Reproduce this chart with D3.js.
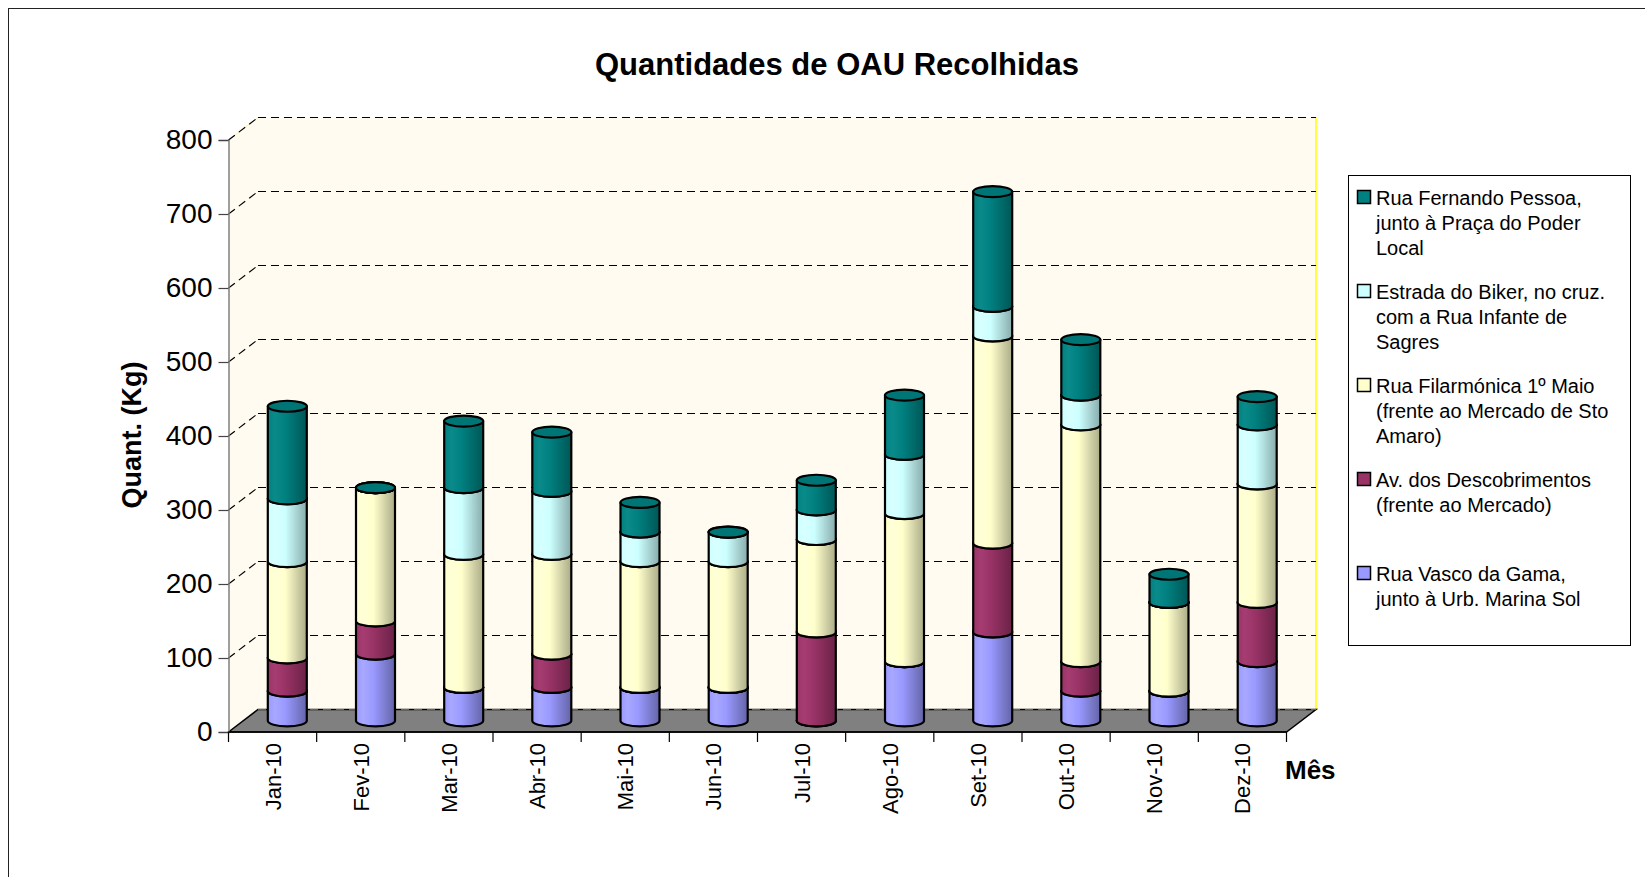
<!DOCTYPE html>
<html>
<head>
<meta charset="utf-8">
<script src="https://cdn.jsdelivr.net/npm/d3@7"></script>
<style>
  html, body { margin: 0; padding: 0; background: #fff; }
  svg { display: block; font-family: Arial, 'Liberation Sans', sans-serif; }
</style>
</head>
<body>
<div id="chart"></div>
<script>

// ━━━━━━━━━━━━━━━━━━━━━━━━━━━━━━━━━━━━━━━━━━━━━━━━━━━━━━━━━━━━━━━━━━━━━━━━━━━━━━━━━━━━
// Datos ////////////////////////////////////////////////////////////////////////////////
// ━━━━━━━━━━━━━━━━━━━━━━━━━━━━━━━━━━━━━━━━━━━━━━━━━━━━━━━━━━━━━━━━━━━━━━━━━━━━━━━━━━━━

const meses = ['Jan-10', 'Fev-10', 'Mar-10', 'Abr-10', 'Mai-10', 'Jun-10',
               'Jul-10', 'Ago-10', 'Set-10', 'Out-10', 'Nov-10', 'Dez-10'];

// de baixo para cima
const vascoGama      = [40,  90,  45,  45,  45,  45,   0,  80, 120,  40,  40,  80];
const descobrimentos = [45,  45,   0,  45,   0,   0, 120,   0, 120,  40,   0,  80];
const filarmonica    = [130, 180, 180, 135, 170, 170, 125, 200, 280, 320, 120, 160];
const biker          = [85,   0,  90,  85,  40,  40,  40,  80,  40,  40,   0,  80];
const fernandoPessoa = [125,  0,  90,  80,  40,   0,  40,  80, 155,  75,  38,  38];

const yTicks = [0, 100, 200, 300, 400, 500, 600, 700, 800];

const series = [
  { nome: ['Rua Vasco da Gama,', 'junto à Urb. Marina Sol'], valores: vascoGama,
    cor: '#9999FF', claro: '#A8A8FF', escuro: '#6464A8' },
  { nome: ['Av. dos Descobrimentos', '(frente ao Mercado)'], valores: descobrimentos,
    cor: '#993366', claro: '#A63D72', escuro: '#6A2246' },
  { nome: ['Rua Filarmónica 1º Maio', '(frente ao Mercado de Sto', 'Amaro)'], valores: filarmonica,
    cor: '#FFFFCC', claro: '#FFFFD8', escuro: '#ABAB88' },
  { nome: ['Estrada do Biker, no cruz.', 'com a Rua Infante de', 'Sagres'], valores: biker,
    cor: '#CCFFFF', claro: '#D8FFFF', escuro: '#88ABAB' },
  { nome: ['Rua Fernando Pessoa,', 'junto à Praça do Poder', 'Local'], valores: fernandoPessoa,
    cor: '#008080', claro: '#0B8A8A', escuro: '#005656' }
];

// ━━━━━━━━━━━━━━━━━━━━━━━━━━━━━━━━━━━━━━━━━━━━━━━━━━━━━━━━━━━━━━━━━━━━━━━━━━━━━━━━━━━━
// SVG setup ////////////////////////////////////////////////////////////////////////////
// ━━━━━━━━━━━━━━━━━━━━━━━━━━━━━━━━━━━━━━━━━━━━━━━━━━━━━━━━━━━━━━━━━━━━━━━━━━━━━━━━━━━━

const width = 1645, height = 877;

const svg = d3.select('#chart').append('svg')
  .attr('viewBox', [0, 0, width, height])
  .attr('width', width)
  .attr('height', height);

const    defs = svg.append('defs');
const   frame = svg.append('g').attr('id', 'frame');
const   walls = svg.append('g').attr('id', 'walls');
const    grid = svg.append('g').attr('id', 'grid');
const    axes = svg.append('g').attr('id', 'axes');
const    bars = svg.append('g').attr('id', 'bars');
const  legend = svg.append('g').attr('id', 'legend');
const  titles = svg.append('g').attr('id', 'titles');

frame.append('rect')
  .attr('x', 8.5).attr('y', 8.5)
  .attr('width', 1700).attr('height', 900)
  .attr('fill', '#fff').attr('stroke', '#222').attr('stroke-width', 1);

// ━━━━━━━━━━━━━━━━━━━━━━━━━━━━━━━━━━━━━━━━━━━━━━━━━━━━━━━━━━━━━━━━━━━━━━━━━━━━━━━━━━━━
// Escalas y profundidad 3D /////////////////////////////////////////////////////////////
// ━━━━━━━━━━━━━━━━━━━━━━━━━━━━━━━━━━━━━━━━━━━━━━━━━━━━━━━━━━━━━━━━━━━━━━━━━━━━━━━━━━━━

const x0 = 228.5, x1 = 1286.5;
const dx = 29.5, dy = -22.5;           // desplazamiento de la pared del fondo

const x = d3.scaleBand().domain(meses).range([x0, x1]).padding(0);
const y = d3.scaleLinear().domain([0, 800]).range([732, 140]);

const rx = 19.5, ry = 5.5;

// ━━━━━━━━━━━━━━━━━━━━━━━━━━━━━━━━━━━━━━━━━━━━━━━━━━━━━━━━━━━━━━━━━━━━━━━━━━━━━━━━━━━━
// Paredes y suelo //////////////////////////////////////////////////////////////////////
// ━━━━━━━━━━━━━━━━━━━━━━━━━━━━━━━━━━━━━━━━━━━━━━━━━━━━━━━━━━━━━━━━━━━━━━━━━━━━━━━━━━━━

const pt = (a, b) => a.toFixed(1) + ',' + b.toFixed(1);

// pared izquierda
walls.append('path')
  .attr('d', `M${pt(x0, y(0))}L${pt(x0 + dx, y(0) + dy)}L${pt(x0 + dx, y(800) + dy)}L${pt(x0, y(800))}Z`)
  .attr('fill', '#FFFBF0').attr('stroke', 'none');

// pared del fondo
walls.append('rect')
  .attr('x', x0 + dx).attr('y', y(800) + dy)
  .attr('width', x1 - x0).attr('height', y(0) - y(800))
  .attr('fill', '#FFFBF0').attr('stroke', 'none');

walls.append('line')
  .attr('x1', x1 + dx).attr('x2', x1 + dx)
  .attr('y1', y(800) + dy).attr('y2', y(0) + dy)
  .attr('stroke', '#FFFF00').attr('stroke-width', 1.5);

walls.append('line')
  .attr('x1', x0).attr('x2', x0 + dx)
  .attr('y1', y(800)).attr('y2', y(800) + dy)
  .attr('stroke', '#F5F0B0').attr('stroke-width', 1);

// suelo
walls.append('path')
  .attr('d', `M${pt(x0, y(0))}L${pt(x0 + dx, y(0) + dy)}L${pt(x1 + dx, y(0) + dy)}L${pt(x1, y(0))}Z`)
  .attr('fill', '#808080').attr('stroke', '#000').attr('stroke-width', 1.5);

// Gridlines //////////////////////////////////////////////////////////////////////////

grid.selectAll('line.back')
  .data(yTicks)
  .join('line')
  .attr('class', 'back')
  .attr('x1', x0 + dx).attr('x2', x1 + dx)
  .attr('y1', d => y(d) + dy).attr('y2', d => y(d) + dy)
  .attr('stroke', d => d === 0 ? '#6B6B2A' : '#000')
  .attr('stroke-width', 1.2)
  .attr('stroke-dasharray', '8,5');

grid.selectAll('line.side')
  .data(yTicks.filter(d => d > 0))
  .join('line')
  .attr('class', 'side')
  .attr('x1', x0).attr('x2', x0 + dx)
  .attr('y1', d => y(d)).attr('y2', d => y(d) + dy)
  .attr('stroke', '#000')
  .attr('stroke-width', 1.2)
  .attr('stroke-dasharray', '8,5');

// ━━━━━━━━━━━━━━━━━━━━━━━━━━━━━━━━━━━━━━━━━━━━━━━━━━━━━━━━━━━━━━━━━━━━━━━━━━━━━━━━━━━━
// Ejes /////////////////////////////////////////////////////////////////////////////////
// ━━━━━━━━━━━━━━━━━━━━━━━━━━━━━━━━━━━━━━━━━━━━━━━━━━━━━━━━━━━━━━━━━━━━━━━━━━━━━━━━━━━━

const yAxis = axes.append('g')
  .attr('transform', `translate(${x0},0)`)
  .call(d3.axisLeft(y).tickValues(yTicks).tickSize(10).tickPadding(6));

yAxis.select('.domain').attr('stroke', '#808080').attr('stroke-width', 1.5);
yAxis.selectAll('.tick line').attr('stroke', '#444').attr('stroke-width', 1.2);
yAxis.selectAll('.tick text')
  .attr('font-size', 28).attr('fill', '#000')
  .attr('font-family', "Arial, 'Liberation Sans', sans-serif");

const xAxis = axes.append('g')
  .attr('transform', `translate(0,${y(0)})`)
  .call(d3.axisBottom(x).tickSize(0).tickPadding(0));

xAxis.select('.domain').remove();

xAxis.append('line')
  .attr('x1', x0).attr('x2', x1)
  .attr('stroke', '#000').attr('stroke-width', 1.5);

xAxis.selectAll('line.cat')
  .data(d3.range(meses.length + 1))
  .join('line')
  .attr('class', 'cat')
  .attr('x1', i => x0 + i * x.bandwidth())
  .attr('x2', i => x0 + i * x.bandwidth())
  .attr('y1', 0).attr('y2', 10)
  .attr('stroke', '#000').attr('stroke-width', 1.2);

xAxis.selectAll('.tick text')
  .attr('font-size', 22).attr('fill', '#000')
  .attr('font-family', "Arial, 'Liberation Sans', sans-serif")
  .attr('text-anchor', 'end')
  .attr('dy', null)
  .attr('y', 0)
  .attr('transform', 'translate(8,11) rotate(-90)');

// ━━━━━━━━━━━━━━━━━━━━━━━━━━━━━━━━━━━━━━━━━━━━━━━━━━━━━━━━━━━━━━━━━━━━━━━━━━━━━━━━━━━━
// Cilindros apilados ///////////////////////////////////////////////////////////////////
// ━━━━━━━━━━━━━━━━━━━━━━━━━━━━━━━━━━━━━━━━━━━━━━━━━━━━━━━━━━━━━━━━━━━━━━━━━━━━━━━━━━━━

series.forEach((s, i) => {
  const g = defs.append('linearGradient')
    .attr('id', 'grad-' + i)
    .attr('x1', 0).attr('x2', 1).attr('y1', 0).attr('y2', 0);
  g.append('stop').attr('offset', '0%').attr('stop-color', s.cor);
  g.append('stop').attr('offset', '18%').attr('stop-color', s.claro);
  g.append('stop').attr('offset', '45%').attr('stop-color', s.cor);
  g.append('stop').attr('offset', '100%').attr('stop-color', s.escuro);
});

const stack = d3.stack()
  .keys(d3.range(series.length))
  .value((d, k) => series[k].valores[d]);

const stacked = stack(d3.range(meses.length));

const cx = m => x(m) + x.bandwidth() / 2 + dx / 2;
const ym = v => y(v) + dy / 2;

meses.forEach((m, j) => {
  const col = bars.append('g').attr('class', 'bar').attr('month', m);
  stacked.forEach((layer, k) => {
    const [v0, v1] = layer[j];
    const c = cx(m), yb = ym(v0), yt = ym(v1);
    col.append('path')
      .attr('d', `M${pt(c - rx, yt)}L${pt(c - rx, yb)}A${rx},${ry} 0 0 0 ${pt(c + rx, yb)}L${pt(c + rx, yt)}Z`)
      .attr('fill', `url(#grad-${k})`)
      .attr('stroke', '#000').attr('stroke-width', 2.2)
      .attr('stroke-linejoin', 'round');
    col.append('ellipse')
      .attr('cx', c).attr('cy', yt)
      .attr('rx', rx).attr('ry', ry)
      .attr('fill', d3.color(series[k].cor).darker(0.25))
      .attr('stroke', '#000').attr('stroke-width', 2.2);
  });
});

// ━━━━━━━━━━━━━━━━━━━━━━━━━━━━━━━━━━━━━━━━━━━━━━━━━━━━━━━━━━━━━━━━━━━━━━━━━━━━━━━━━━━━
// Leyenda //////////////////////////////////////////////////////////////////////////////
// ━━━━━━━━━━━━━━━━━━━━━━━━━━━━━━━━━━━━━━━━━━━━━━━━━━━━━━━━━━━━━━━━━━━━━━━━━━━━━━━━━━━━

legend.append('rect')
  .attr('x', 1348.5).attr('y', 175.5)
  .attr('width', 282).attr('height', 470)
  .attr('fill', '#fff').attr('stroke', '#000').attr('stroke-width', 1);

const items = legend.selectAll('g.item')
  .data(series.slice().reverse())
  .join('g')
  .attr('class', 'item')
  .attr('transform', (d, i) => `translate(0,${205 + i * 94})`);

items.append('rect')
  .attr('x', 1357.5).attr('y', -14.5)
  .attr('width', 13).attr('height', 13)
  .attr('fill', d => d.cor)
  .attr('stroke', '#000').attr('stroke-width', 1.5);

items.append('text')
  .attr('font-size', 20)
  .attr('fill', '#000')
  .selectAll('tspan')
  .data(d => d.nome)
  .join('tspan')
  .attr('x', 1376)
  .attr('y', (d, i) => i * 25)
  .text(d => d);

// ━━━━━━━━━━━━━━━━━━━━━━━━━━━━━━━━━━━━━━━━━━━━━━━━━━━━━━━━━━━━━━━━━━━━━━━━━━━━━━━━━━━━
// Títulos //////////////////////////////////////////////////////////////////////////////
// ━━━━━━━━━━━━━━━━━━━━━━━━━━━━━━━━━━━━━━━━━━━━━━━━━━━━━━━━━━━━━━━━━━━━━━━━━━━━━━━━━━━━

titles.append('text')
  .attr('x', 837).attr('y', 75)
  .attr('text-anchor', 'middle')
  .attr('font-size', 31).attr('font-weight', 'bold')
  .text('Quantidades de OAU Recolhidas');

titles.append('text')
  .attr('transform', 'translate(141,435) rotate(-90)')
  .attr('text-anchor', 'middle')
  .attr('font-size', 27).attr('font-weight', 'bold')
  .text('Quant. (Kg)');

titles.append('text')
  .attr('x', 1285).attr('y', 779)
  .attr('font-size', 26).attr('font-weight', 'bold')
  .text('Mês');

</script>
</body>
</html>
